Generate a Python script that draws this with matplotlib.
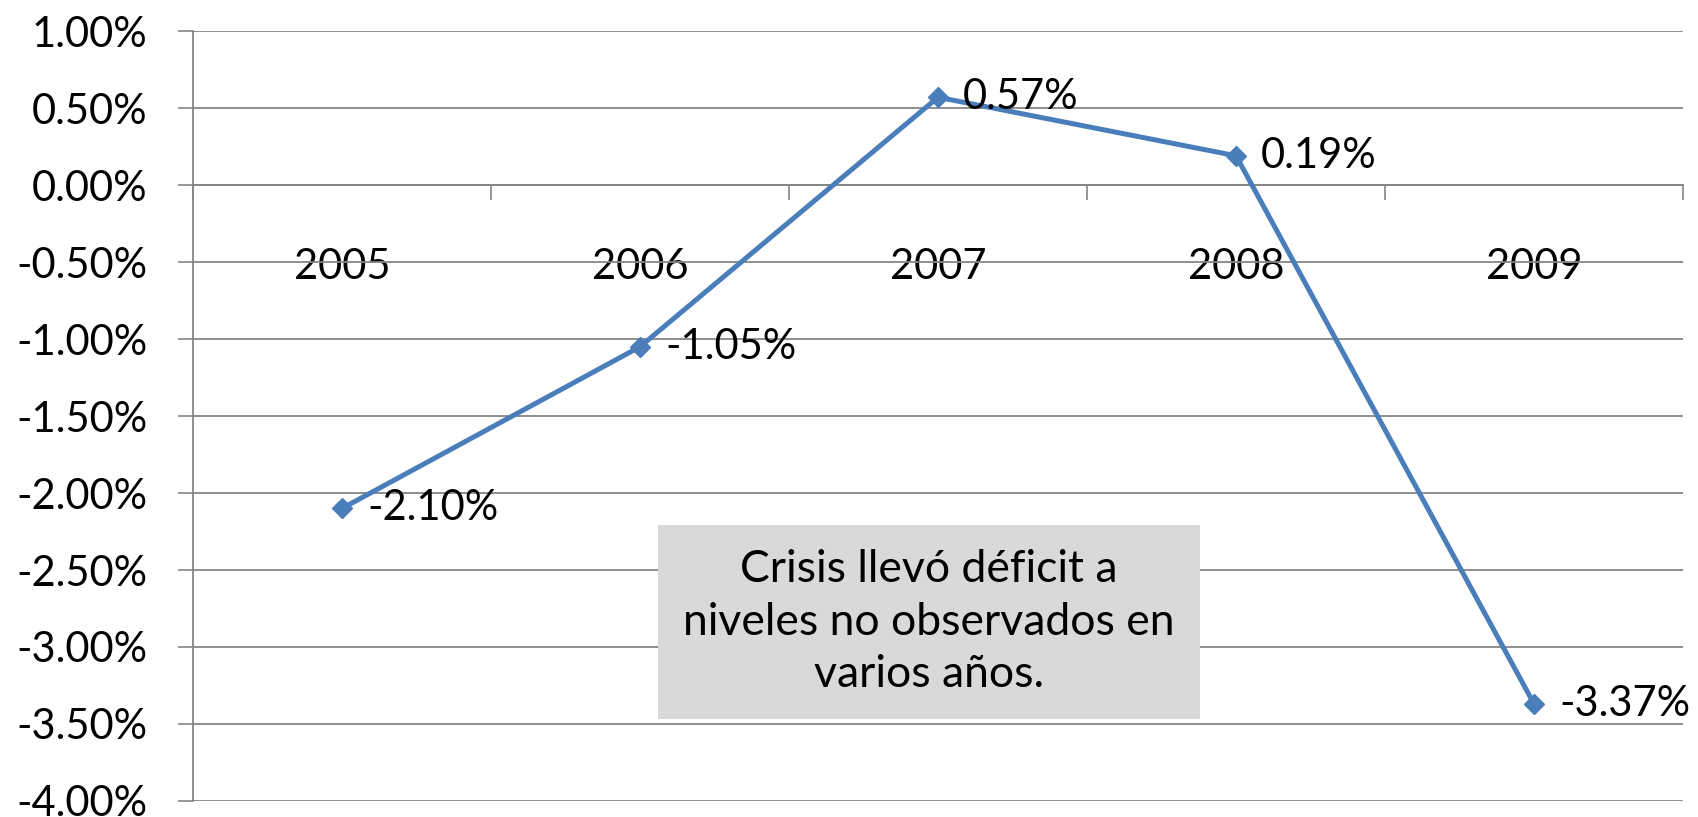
import numpy as np
import matplotlib
matplotlib.use("Agg")
import matplotlib.pyplot as plt
from matplotlib.patches import Rectangle
from matplotlib.ticker import FuncFormatter, FixedLocator

# data (percent)
years = ["2005", "2006", "2007", "2008", "2009"]
deficit = [-2.10, -1.05, 0.57, 0.19, -3.37]
y_ticks = [1.0, 0.5, 0.0, -0.5, -1.0, -1.5, -2.0, -2.5, -3.0, -3.5, -4.0]
note = "Crisis llevó déficit a\nniveles no observados en\nvarios años."

plt.rcParams['font.family'] = ['Lato', 'DejaVu Sans']
grey = "#868686"
blue = "#4a7ebb"

fig = plt.figure(figsize=(16.98, 8.17), dpi=100)
ax = fig.add_axes([0.1137, 0.0196, 0.8775, 0.9424])

x = np.arange(len(years))
ax.plot(x, deficit, color=blue, lw=3.6, marker="D", markersize=10.5, zorder=4)

# data labels to the right of each marker
for xi, v in zip(x, deficit):
    ax.annotate(f"{v:.2f}%", (xi, v), xytext=(18, 0), textcoords="offset points",
                ha="left", va="center", fontsize=30, zorder=5)

ax.set_xlim(-0.5, len(years) - 0.5)
ax.set_ylim(-4, 1)

# y axis
ax.set_yticks(y_ticks)
ax.yaxis.set_major_formatter(FuncFormatter(lambda v, p: f"{v:.2f}%"))
ax.tick_params(axis="y", direction="out", length=11, width=1.2, color=grey,
               labelsize=30, pad=22)
ax.grid(axis="y", color=grey, lw=1.3)
ax.set_axisbelow(True)

# x axis at zero, ticks between categories, labels below
ax.spines["bottom"].set_position(("data", 0))
ax.spines["bottom"].set_color(grey)
ax.spines["bottom"].set_linewidth(1.3)
ax.spines["left"].set_color(grey)
ax.spines["left"].set_linewidth(1.3)
ax.spines["top"].set_visible(False)
ax.spines["right"].set_visible(False)
ax.xaxis.set_major_locator(FixedLocator(np.arange(-0.5, len(years), 1.0)))
ax.xaxis.set_minor_locator(FixedLocator(x))
ax.set_xticklabels([])
ax.set_xticklabels(years, minor=True)
ax.tick_params(axis="x", which="major", direction="out", length=11, width=1.2, color=grey)
ax.tick_params(axis="x", which="minor", length=0, labelsize=30, pad=45)

# annotation box
bx0, bx1, by0, by1 = 1.06, 2.88, -3.466, -2.21
ax.add_patch(Rectangle((bx0, by0), bx1 - bx0, by1 - by0, facecolor="#d9d9d9",
                       edgecolor="none", zorder=3))
ax.text((bx0 + bx1) / 2, (by0 + by1) / 2, note, ha="center", va="center",
        fontsize=32, linespacing=1.35, zorder=4)

fig.savefig("out.png", dpi=100)
